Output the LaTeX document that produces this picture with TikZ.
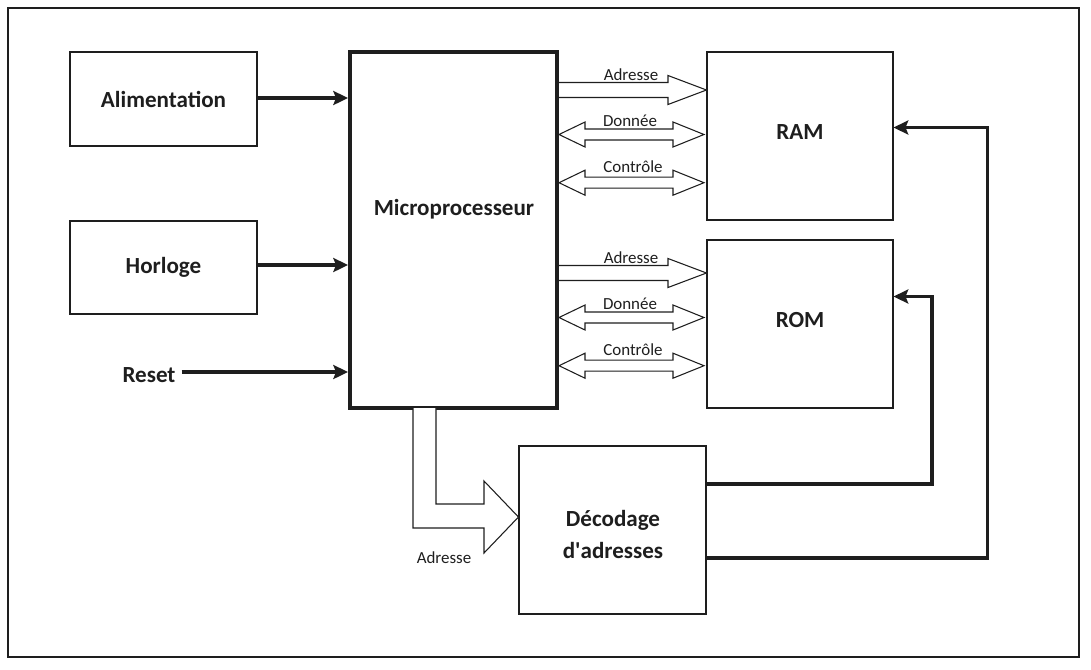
\documentclass[tikz,border=0pt]{standalone}
\usepackage{fontspec}
\setmainfont{Carlito}
\usetikzlibrary{arrows.meta,calc}
\definecolor{ink}{RGB}{30,30,30}
\tikzset{
  blk/.style={draw=ink, line width=0.8pt, inner sep=0pt, font=\bfseries\fontsize{17.3}{24}\selectfont, text=ink},
  bigblk/.style={draw=ink, line width=3pt, inner sep=0pt},
  lbl/.style={font=\fontsize{12.7}{14}\selectfont, text=ink, inner sep=0pt},
  boldlbl/.style={font=\bfseries\fontsize{17.3}{24}\selectfont, text=ink, inner sep=0pt},
  sig/.style={draw=ink, line width=2.4pt, -{Stealth[length=11pt,width=10.5pt,inset=2pt]}},
  bus/.style={draw=ink, line width=0.8pt, fill=white, line join=miter},
}
\newcommand{\oneway}[1]{%
  \draw[bus] (micro.east |- 0,#1-7.5) -- (668,#1-7.5) -- (668,#1-14.5) -- (ram.west |- 0,#1)
    -- (668,#1+14.5) -- (668,#1+7.5) -- (micro.east |- 0,#1+7.5);}
\newcommand{\twoway}[1]{%
  \draw[bus] (micro.east |- 0,#1) -- (585,#1-12.5) -- (585,#1-5.5) -- (673,#1-5.5) -- (673,#1-12.5)
    -- (704,#1) -- (673,#1+12.5) -- (673,#1+5.5) -- (585,#1+5.5) -- (585,#1+12.5) -- cycle;}
\begin{document}
\begin{tikzpicture}[x=0.75pt,y=-0.75pt]
\useasboundingbox (0,0) rectangle (1091,669);
\draw[draw=ink, line width=1.5pt] (8,8) rectangle (1079,657);

\node[blk, minimum width=187*0.75pt, minimum height=94*0.75pt] (alim) at (163.5,99) {Alimentation};
\node[blk, minimum width=187*0.75pt, minimum height=93*0.75pt] (horl) at (163.5,267.5) {Horloge};
\node[boldlbl] (reset) at (149,375) {Reset};
\node[bigblk, minimum width=207*0.75pt, minimum height=356*0.75pt] (micro) at (453.5,230) {};
\node[boldlbl] (microtxt) at (454,209) {Microprocesseur};
\node[blk, minimum width=186*0.75pt, minimum height=168*0.75pt] (ram) at (800,136) {};
\node[boldlbl] (ramtxt) at (800,132) {RAM};
\node[blk, minimum width=186*0.75pt, minimum height=168*0.75pt] (rom) at (800,324) {};
\node[boldlbl] (romtxt) at (800,320) {ROM};
\node[blk, minimum width=187*0.75pt, minimum height=168*0.75pt] (dec) at (612.5,530) {};
\node[boldlbl, align=center] (dectxt) at (613,534) {Décodage\\d\textquotesingle adresses};

% input signals
\draw[sig] (alim.east |- 0,98) -- (micro.west |- 0,98);
\draw[sig] (horl.east |- 0,265) -- (micro.west |- 0,265);
\draw[sig] (reset.east |- 0,372) ++(6,0) -- (micro.west |- 0,372);

% buses RAM
\oneway{90}
\twoway{134.5}
\twoway{182.7}
\node[lbl] (a1) at (631,75) {Adresse};
\node[lbl] (d1) at (630,121) {Donnée};
\node[lbl] (c1) at (633,167) {Contrôle};
% buses ROM
\oneway{273}
\twoway{317.5}
\twoway{365.7}
\node[lbl] (a2) at (631,258) {Adresse};
\node[lbl] (d2) at (630,304) {Donnée};
\node[lbl] (c2) at (633,350) {Contrôle};

% address bus to decoder
\draw[bus] (413,408) -- (413,528) -- (484,528) -- (484,553) -- (dec.west |- 0,517) -- (484,481)
  -- (484,504) -- (436,504) -- (436,408);
\node[lbl] (a3) at (444,558) {Adresse};

% chip selects
\draw[sig] (dec.east |- 0,484) -- (932,484) -- (932,296.5) -- (rom.east |- 0,296.5);
\draw[sig] (dec.east |- 0,558) -- (987.5,558) -- (987.5,127.5) -- (ram.east |- 0,127.5);
\end{tikzpicture}
\end{document}
